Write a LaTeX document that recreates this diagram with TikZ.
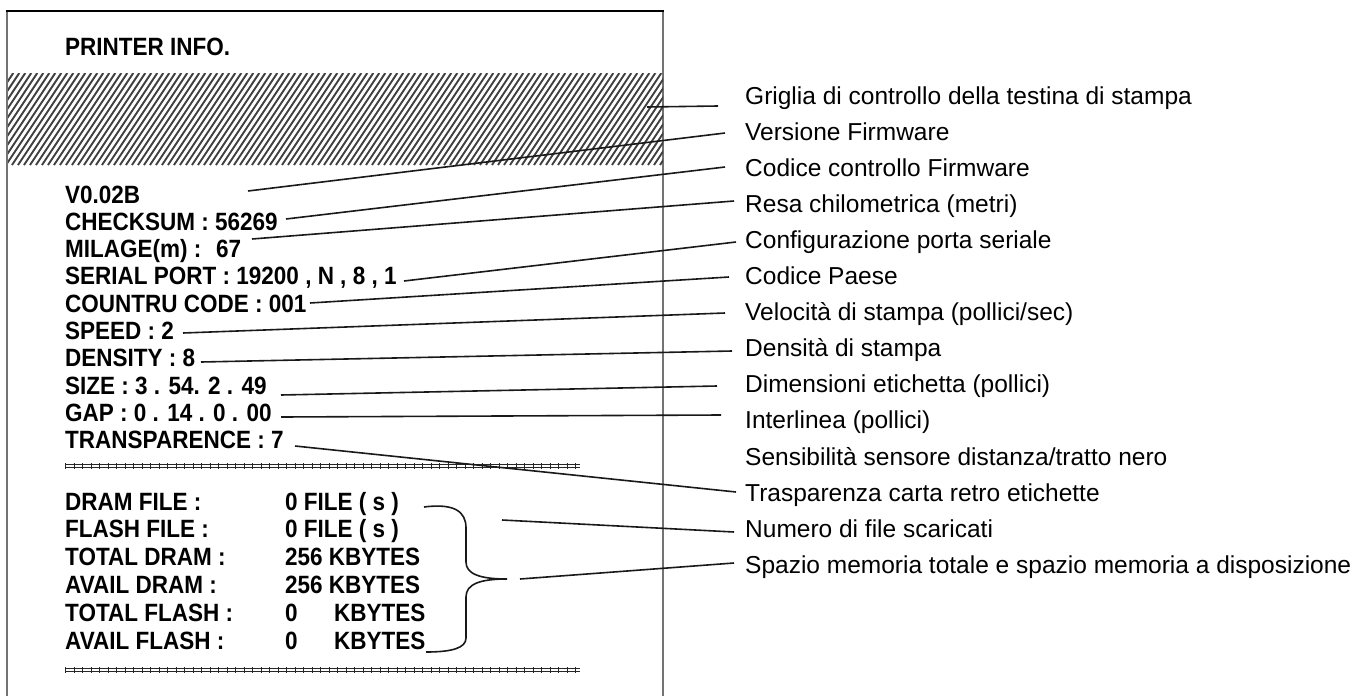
\documentclass[tikz,border=0pt]{standalone}
\usepackage{fontspec}
\setmainfont{Liberation Sans}
\newcommand{\nrw}[1]{\scalebox{0.9}[1]{#1}}
\begin{document}
\begin{tikzpicture}[x=1pt,y=-1pt,
  lefttxt/.style={anchor=base west, inner sep=0pt, font=\fontsize{25}{29}\selectfont\bfseries},
  lab/.style={anchor=base west, inner sep=0pt, font=\fontsize{24.5}{28}\selectfont},
  conn/.style={line width=1.6pt, black!90},
  rulestyle/.style={black!85, line width=1.2pt},
  border/.style={black!55, line width=1.5pt}]
\useasboundingbox (0,0) rectangle (1354,696);
% frame
\draw[border] (7,11) -- (7,696);
\draw[border] (663,11) -- (663,696);
\draw[black, line width=2.5pt] (6,11) -- (664,11);
% hatch
\begin{scope}
  \clip (8,73) rectangle (663,165);
  \foreach \i in {-120,-114,...,700} {
    \draw[black!75, line width=1.9pt] (\i,165) -- ({\i+61.3},73);
  }
\end{scope}
% left text
\node[lefttxt] (title) at (65,55) {\nrw{PRINTER INFO.}};
\node[lefttxt] (ver) at (65,203) {\nrw{V0.02B}};
\node[lefttxt] (chk) at (65,230.3) {\nrw{CHECKSUM : 56269}};
\node[lefttxt] (mil) at (65,257.6) {\nrw{MILAGE(m) : \ 67}};
\node[lefttxt] (ser) at (65,284.9) {\nrw{SERIAL PORT : 19200 , N , 8 , 1}};
\node[lefttxt] (cty) at (65,312.2) {\nrw{COUNTRU CODE : 001}};
\node[lefttxt] (spd) at (65,339.5) {\nrw{SPEED : 2}};
\node[lefttxt] (den) at (65,366.8) {\nrw{DENSITY : 8}};
\node[lefttxt] (siz) at (65,394.1) {\nrw{SIZE : 3 . 54. 2 . 49}};
\node[lefttxt] (gap) at (65,421.4) {\nrw{GAP : 0 . 14 . 0 . 00}};
\node[lefttxt] (trn) at (65,448.7) {\nrw{TRANSPARENCE : 7}};
% rules
\foreach \yy in {466,670} {
  \draw[rulestyle] (65,\yy-1.8) -- (580,\yy-1.8);
  \draw[rulestyle] (65,\yy+1.8) -- (580,\yy+1.8);
  \draw[black!85, line width=6pt, dash pattern=on 1.3pt off 7.2pt] (65,\yy) -- (580,\yy);
}
% lower block
\node[lefttxt] (k1) at (65,510) {\nrw{DRAM FILE :}};
\node[lefttxt] (k2) at (65,537.8) {\nrw{FLASH FILE :}};
\node[lefttxt] (k3) at (65,565.6) {\nrw{TOTAL DRAM :}};
\node[lefttxt] (k4) at (65,593.4) {\nrw{AVAIL DRAM :}};
\node[lefttxt] (k5) at (65,621.2) {\nrw{TOTAL FLASH :}};
\node[lefttxt] (k6) at (65,649) {\nrw{AVAIL FLASH :}};
\node[lefttxt] (v1) at (285,510) {\nrw{0 FILE ( s )}};
\node[lefttxt] (v2) at (285,537.8) {\nrw{0 FILE ( s )}};
\node[lefttxt] (v3) at (285,565.6) {\nrw{256 KBYTES}};
\node[lefttxt] (v4) at (285,593.4) {\nrw{256 KBYTES}};
\node[lefttxt] (v5) at (285,621.2) {\nrw{0}};
\node[lefttxt] (v5b) at (334,621.2) {\nrw{KBYTES}};
\node[lefttxt] (v6) at (285,649) {\nrw{0}};
\node[lefttxt] (v6b) at (334,649) {\nrw{KBYTES}};
% brace
\draw[conn] (424,507) .. controls (455,503) and (466,512) .. (466,528) -- (466,562)
  .. controls (466,574) and (480,579) .. (507,579)
  .. controls (480,579) and (466,584) .. (466,597) -- (466,638)
  .. controls (466,648) and (452,652) .. (426,652);
% right labels
\node[lab] (l1) at (745,104) {Griglia di controllo della testina di stampa};
\node[lab] (l2) at (745,140.1) {Versione Firmware};
\node[lab] (l3) at (745,176.2) {Codice controllo Firmware};
\node[lab] (l4) at (745,212.3) {Resa chilometrica (metri)};
\node[lab] (l5) at (745,248.4) {Configurazione porta seriale};
\node[lab] (l6) at (745,284.5) {Codice Paese};
\node[lab] (l7) at (745,320.6) {Velocità di stampa (pollici/sec)};
\node[lab] (l8) at (745,356.7) {Densità di stampa};
\node[lab] (l9) at (745,392.8) {Dimensioni etichetta (pollici)};
\node[lab] (l10) at (745,428.9) {Interlinea (pollici)};
\node[lab] (l11) at (745,465) {Sensibilità sensore distanza/tratto nero};
\node[lab] (l12) at (745,501.1) {Trasparenza carta retro etichette};
\node[lab] (l13) at (745,537.2) {Numero di file scaricati};
\node[lab] (l14) at (745,573.3) {Spazio memoria totale e spazio memoria a disposizione};
% connector ends
\coordinate (s1) at (647,107);  \coordinate (e1) at (718,106);
\coordinate (s2) at (248,191);  \coordinate (e2) at (725,133);
\coordinate (s3) at (286,219);  \coordinate (e3) at (725,167);
\coordinate (s4) at (252,239);  \coordinate (e4) at (734,201);
\coordinate (s5) at (404,281);  \coordinate (e5) at (736,242);
\coordinate (s6) at (310,303);  \coordinate (e6) at (729,277);
\coordinate (s7) at (183,333);  \coordinate (e7) at (725,313);
\coordinate (s8) at (201,362);  \coordinate (e8) at (732,351);
\coordinate (s9) at (281,395);  \coordinate (e9) at (717,386);
\coordinate (s10) at (281,417); \coordinate (e10) at (721,415);
\coordinate (s11) at (295,446); \coordinate (e11) at (736,492);
\coordinate (s12) at (502,520); \coordinate (e12) at (734,532);
\coordinate (s13) at (520,579); \coordinate (e13) at (734,563);
\foreach \k in {1,...,13} { \draw[conn] (s\k) -- (e\k); }
\end{tikzpicture}
\end{document}
